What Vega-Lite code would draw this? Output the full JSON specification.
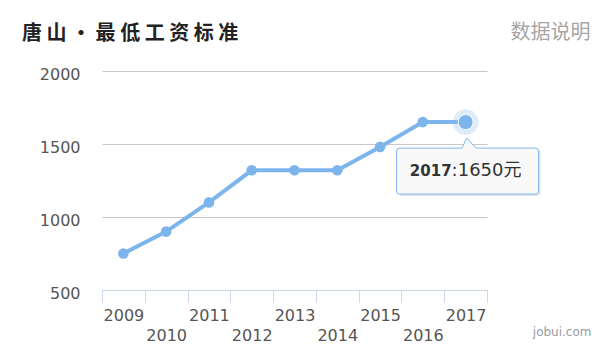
{
  "$schema": "https://vega.github.io/schema/vega-lite/v6.json",
  "width": 385,
  "height": 219,
  "autosize": "none",
  "padding": {"left": 102, "top": 71, "right": 124, "bottom": 73},
  "background": "#ffffff",
  "config": {
    "view": {"stroke": null},
    "font": "DejaVu Sans"
  },
  "title": {
    "text": "唐 山 • 最 低 工 资 标 准",
    "anchor": "start",
    "frame": "group",
    "dx": -80,
    "dy": 50,
    "offset": 28,
    "font": "Noto Sans CJK SC",
    "fontSize": 20,
    "fontWeight": "bold",
    "color": "#222222"
  },
  "data": {
    "values": [
      {"year": "2009", "wage": 750},
      {"year": "2010", "wage": 900},
      {"year": "2011", "wage": 1100},
      {"year": "2012", "wage": 1320},
      {"year": "2013", "wage": 1320},
      {"year": "2014", "wage": 1320},
      {"year": "2015", "wage": 1480},
      {"year": "2016", "wage": 1650},
      {"year": "2017", "wage": 1650}
    ]
  },
  "encoding": {
    "x": {
      "field": "year",
      "type": "ordinal",
      "scale": {"type": "band", "paddingInner": 0, "paddingOuter": 0},
      "axis": {
        "title": "jobui.com",
        "titleFont": "DejaVu Sans",
        "titleFontSize": 12,
        "titleFontWeight": "normal",
        "titleColor": "#9a9aa6",
        "titleAnchor": "end",
        "titleAlign": "right",
        "titleBaseline": "middle",
        "titleX": 489,
        "titleY": 41,
        "labelAngle": 0,
        "labelFont": "DejaVu Sans",
        "labelFontSize": 16,
        "labelColor": "#555555",
        "labelPadding": 5,
        "labelLineHeight": 20,
        "labelExpr": "toNumber(datum.value) % 2 == 0 ? ['', datum.label] : datum.label",
        "tickBand": "extent",
        "tickSize": 12,
        "tickColor": "#ccd6eb",
        "tickWidth": 1,
        "domainColor": "#ccd6eb",
        "domainWidth": 1,
        "grid": false,
        "zindex": 1
      }
    },
    "y": {
      "field": "wage",
      "type": "quantitative",
      "scale": {"domain": [500, 2000], "nice": false, "zero": false},
      "axis": {
        "values": [500, 1000, 1500, 2000],
        "format": "d",
        "title": "数据说明",
        "titleFont": "Noto Sans CJK SC",
        "titleFontSize": 20,
        "titleFontWeight": "normal",
        "titleColor": "#a6a6a6",
        "titleAngle": 0,
        "titleAnchor": "end",
        "titleAlign": "right",
        "titleBaseline": "middle",
        "titleX": 488,
        "titleY": -39,
        "labelFont": "DejaVu Sans",
        "labelFontSize": 16,
        "labelColor": "#555555",
        "labelPadding": 22,
        "labelOffset": 3,
        "domain": false,
        "ticks": false,
        "grid": true,
        "gridColor": "#c8c8c8",
        "gridWidth": 1
      }
    }
  },
  "layer": [
    {
      "mark": {
        "type": "line",
        "color": "#7cb5ec",
        "strokeWidth": 4,
        "point": {"filled": true, "size": 113, "color": "#7cb5ec", "opacity": 1}
      }
    },
    {
      "transform": [{"filter": "datum.year == '2017'"}],
      "mark": {"type": "point", "filled": true, "size": 660, "color": "#7cb5ec", "opacity": 0.25}
    },
    {
      "transform": [{"filter": "datum.year == '2017'"}],
      "mark": {"type": "point", "filled": true, "size": 227, "fill": "#7cb5ec", "stroke": "#ffffff", "strokeWidth": 1, "opacity": 1}
    },
    {
      "transform": [{"filter": "datum.year == '2017'"}],
      "mark": {
        "type": "point",
        "shape": "M -6.6 2.6 L -0.35 2.6 L 0.1 1.6 L 1.05 2.6 L 7.0 2.6 Q 7.3 2.6 7.3 2.9 L 7.3 6.9 Q 7.3 7.2 7.0 7.2 L -6.6 7.2 Q -6.9 7.2 -6.9 6.9 L -6.9 2.9 Q -6.9 2.6 -6.6 2.6 Z",
        "size": 400,
        "filled": true,
        "fill": "#000000",
        "fillOpacity": 0.1,
        "strokeOpacity": 0,
        "opacity": 1,
        "xOffset": 2,
        "yOffset": 2
      }
    },
    {
      "transform": [{"filter": "datum.year == '2017'"}],
      "mark": {
        "type": "point",
        "shape": "M -6.6 2.6 L -0.35 2.6 L 0.1 1.6 L 1.05 2.6 L 7.0 2.6 Q 7.3 2.6 7.3 2.9 L 7.3 6.9 Q 7.3 7.2 7.0 7.2 L -6.6 7.2 Q -6.9 7.2 -6.9 6.9 L -6.9 2.9 Q -6.9 2.6 -6.6 2.6 Z",
        "size": 400,
        "filled": true,
        "fill": "#f9f9f9",
        "fillOpacity": 1,
        "stroke": "#7cb5ec",
        "strokeWidth": 1,
        "opacity": 1
      }
    },
    {
      "transform": [{"filter": "datum.year == '2017'"}],
      "mark": {
        "type": "text",
        "align": "right",
        "baseline": "middle",
        "dx": -14,
        "dy": 49,
        "font": "DejaVu Sans",
        "fontSize": 15,
        "fontWeight": "bold",
        "color": "#333333"
      },
      "encoding": {"text": {"field": "year"}}
    },
    {
      "transform": [
        {"filter": "datum.year == '2017'"},
        {"calculate": "':' + datum.wage + '元'", "as": "tip"}
      ],
      "mark": {
        "type": "text",
        "align": "left",
        "baseline": "middle",
        "dx": -14,
        "dy": 49,
        "font": "'DejaVu Sans', 'Noto Sans CJK SC'",
        "fontSize": 18,
        "color": "#333333"
      },
      "encoding": {"text": {"field": "tip"}}
    }
  ]
}
